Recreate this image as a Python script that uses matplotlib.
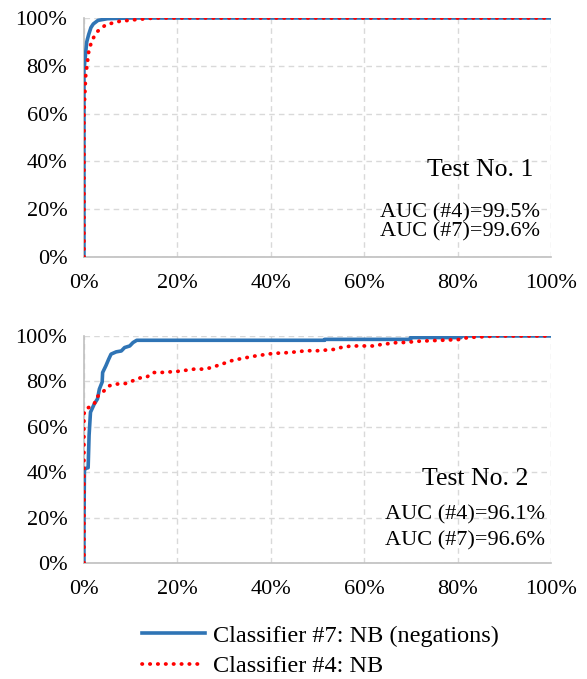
import matplotlib
matplotlib.use('Agg')
import matplotlib.pyplot as plt
from matplotlib.ticker import PercentFormatter

plt.rcParams['font.family'] = ['Liberation Serif', 'DejaVu Serif']

# Test No. 1 (FPR / TPR)
t1_nb7_x = [0, 0, 0.002, 0.004, 0.006, 0.01, 0.015, 0.02, 0.03, 0.05, 0.1, 1.0]
t1_nb7_y = [0, 0.78, 0.82, 0.86, 0.90, 0.93, 0.96, 0.975, 0.99, 0.997, 1.0, 1.0]
t1_nb4_x = [0, 0, 0.0036, 0.0108, 0.018, 0.029, 0.047, 0.076, 0.11, 0.15, 1.0]
t1_nb4_y = [0, 0.60, 0.755, 0.867, 0.91, 0.944, 0.972, 0.986, 0.993, 1.0, 1.0]

# Test No. 2
t2_nb7_x = [0, 0, 0.001, 0.003, 0.009, 0.011, 0.014, 0.022, 0.029, 0.033, 0.039, 0.040,
            0.047, 0.053, 0.058, 0.069, 0.080, 0.087, 0.098, 0.105, 0.113, 0.515, 0.515,
            0.699, 0.699, 0.807, 0.807, 1.0]
t2_nb7_y = [0, 0.16, 0.409, 0.416, 0.42, 0.562, 0.664, 0.70, 0.723, 0.766, 0.797, 0.839,
            0.869, 0.898, 0.92, 0.93, 0.934, 0.949, 0.956, 0.971, 0.981, 0.981, 0.985,
            0.985, 0.993, 0.993, 1.0, 1.0]
t2_nb4_x = [0, 0, 0.0036, 0.0145, 0.022, 0.027, 0.036, 0.047, 0.055, 0.069, 0.091, 0.105,
            0.12, 0.135, 0.149, 0.164, 0.20, 0.236, 0.258, 0.273, 0.295, 0.316, 0.338,
            0.367, 0.404, 0.44, 0.476, 0.504, 0.518, 0.536, 0.547, 0.572, 0.622, 0.637,
            0.651, 0.665, 0.694, 0.708, 0.74, 0.765, 0.801, 0.816, 0.83, 0.859, 0.88, 1.0]
t2_nb4_y = [0, 0.657, 0.679, 0.689, 0.70, 0.73, 0.745, 0.766, 0.781, 0.788, 0.791, 0.803,
            0.815, 0.82, 0.839, 0.839, 0.844, 0.854, 0.854, 0.861, 0.876, 0.891, 0.901,
            0.912, 0.923, 0.927, 0.935, 0.935, 0.938, 0.941, 0.948, 0.956, 0.956, 0.963,
            0.966, 0.97, 0.972, 0.976, 0.979, 0.981, 0.984, 0.991, 0.994, 0.997, 1.0, 1.0]

titulos = ['Test No. 1', 'Test No. 2']
auc_4 = ['AUC (#4)=99.5%', 'AUC (#4)=96.1%']
auc_7 = ['AUC (#7)=99.6%', 'AUC (#7)=96.6%']
curvas = [(t1_nb7_x, t1_nb7_y, t1_nb4_x, t1_nb4_y), (t2_nb7_x, t2_nb7_y, t2_nb4_x, t2_nb4_y)]

posicoes = [[0.143, 0.6215, 0.796, 0.352], [0.143, 0.1708, 0.796, 0.3344]]
# posicao dos textos (x titulo, y titulo, x auc, y auc4, y auc7)
pos_textos = [(0.848, 0.364, 0.976, 0.184, 0.105), (0.837, 0.370, 0.987, 0.211, 0.097)]

azul = '#2f74b5'
vermelho = '#ff0000'

fig = plt.figure(figsize=(5.87, 6.79), dpi=100)

for i in range(2):
    x7, y7, x4, y4 = curvas[i]
    ax = fig.add_axes(posicoes[i])
    l7, = ax.plot(x7, y7, color=azul, lw=2.6, label='Classifier #7: NB (negations)', zorder=3,
                  solid_joinstyle='round')
    l4, = ax.plot(x4, y4, color=vermelho, lw=2.7, ls=(0, (0.1, 2.0)), dash_capstyle='round',
                  label='Classifier #4: NB', zorder=4)
    ax.set_xlim(0, 1)
    ax.set_ylim(0, 1)
    ax.set_xticks([0, 0.2, 0.4, 0.6, 0.8, 1.0])
    ax.set_yticks([0, 0.2, 0.4, 0.6, 0.8, 1.0])
    ax.xaxis.set_major_formatter(PercentFormatter(1.0, decimals=0))
    ax.yaxis.set_major_formatter(PercentFormatter(1.0, decimals=0))
    ax.tick_params(length=0, labelsize=16, pad=12)
    ax.grid(True, color='#d9d9d9', ls=(0, (4, 3)), lw=1)
    ax.set_axisbelow(True)
    for s in ['top', 'right']:
        ax.spines[s].set_visible(False)
    for s in ['left', 'bottom']:
        ax.spines[s].set_color('#bfbfbf')
        ax.spines[s].set_linewidth(1.2)
    xt, yt, xa, ya4, ya7 = pos_textos[i]
    ax.text(xt, yt, titulos[i], transform=ax.transAxes, ha='center', va='center', fontsize=18.5)
    ax.text(xa, ya4, auc_4[i], transform=ax.transAxes, ha='right', va='center', fontsize=16)
    ax.text(xa, ya7, auc_7[i], transform=ax.transAxes, ha='right', va='center', fontsize=16)

fig.legend(handles=[l7, l4], loc='upper left', bbox_to_anchor=(0.225, 0.094), frameon=False,
           fontsize=17.5, handlelength=2.6, handletextpad=0.35, labelspacing=0.35,
           borderaxespad=0)

fig.savefig('out.png', dpi=100)
